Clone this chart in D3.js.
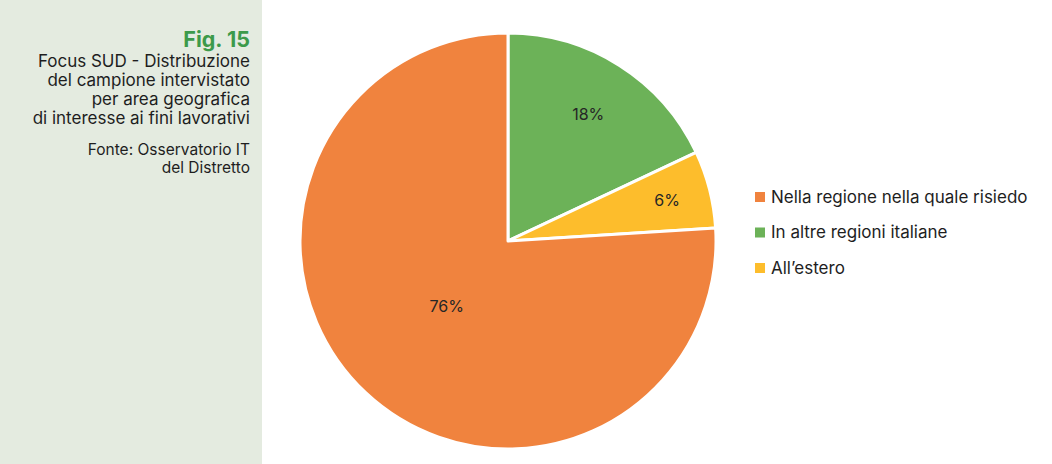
<!DOCTYPE html>
<html>
<head>
<meta charset="utf-8">
<script src="https://cdn.jsdelivr.net/npm/d3@7"></script>
<style>
  body { margin: 0; background: #fff; }
  svg { display: block; font-family: Inter, "Open Sans", sans-serif; }
</style>
</head>
<body>
<svg id="chart" width="1052" height="464"></svg>
<script>
const categories = ['In altre regioni italiane', 'All\u2019estero', 'Nella regione nella quale risiedo'];
const values = [18, 6, 76];
const legendOrder = ['Nella regione nella quale risiedo', 'In altre regioni italiane', 'All\u2019estero'];
const titleLines = ['Focus SUD - Distribuzione', 'del campione intervistato', 'per area geografica', 'di interesse ai fini lavorativi'];
const sourceLines = ['Fonte: Osservatorio IT', 'del Distretto'];

const colors = {
  'Nella regione nella quale risiedo': '#f0833e',
  'In altre regioni italiane': '#6cb258',
  'All\u2019estero': '#fdbd2c'
};
// label distance from centre, as a fraction of the radius
const labelPos = {
  'Nella regione nella quale risiedo': 0.43,
  'In altre regioni italiane': 0.72,
  'All\u2019estero': 0.79
};

const svg = d3.select('#chart');
const width = 1052, height = 464;

// left side panel
svg.append('rect')
  .attr('width', 262)
  .attr('height', height)
  .attr('fill', '#e4ebe0');

const side = svg.append('g')
  .attr('class', 'side')
  .attr('text-anchor', 'end');

side.append('text')
  .attr('x', 250)
  .attr('y', 47)
  .attr('fill', '#3c9a4a')
  .attr('font-size', 21.5)
  .attr('font-weight', 700)
  .text('Fig. 15');

side.selectAll('.titleLine')
  .data(titleLines)
  .join('text')
  .attr('class', 'titleLine')
  .attr('x', 250)
  .attr('y', (d, i) => 67 + i * 19)
  .attr('fill', '#1e1e1e')
  .attr('font-size', 17)
  .text(d => d);

side.selectAll('.sourceLine')
  .data(sourceLines)
  .join('text')
  .attr('class', 'sourceLine')
  .attr('x', 250)
  .attr('y', (d, i) => 155 + i * 18)
  .attr('fill', '#1e1e1e')
  .attr('font-size', 15.5)
  .text(d => d);

// pie
const cx = 508, cy = 241, radius = 208;
const data = categories.map((c, i) => ({ category: c, value: values[i] }));

const pie = d3.pie()
  .sort(null)
  .value(d => d.value);

const arc = d3.arc()
  .innerRadius(0)
  .outerRadius(radius);

const main = svg.append('g')
  .attr('class', 'main')
  .attr('transform', `translate(${cx},${cy})`);

const arcs = pie(data);

main.selectAll('path')
  .data(arcs)
  .join('path')
  .attr('d', arc)
  .attr('fill', d => colors[d.data.category])
  .attr('stroke', '#fff')
  .attr('stroke-width', 3)
  .attr('stroke-linejoin', 'round');

main.selectAll('.sliceLabel')
  .data(arcs)
  .join('text')
  .attr('class', 'sliceLabel')
  .attr('transform', d => {
    const r = radius * labelPos[d.data.category];
    const c = d3.arc().innerRadius(r).outerRadius(r).centroid(d);
    return `translate(${c[0]},${c[1]})`;
  })
  .attr('text-anchor', 'middle')
  .attr('dy', '0.35em')
  .attr('font-size', 16)
  .attr('fill', '#262626')
  .text(d => `${d.data.value}%`);

// legend
const legend = svg.append('g')
  .attr('class', 'legend')
  .attr('transform', 'translate(755,197)');

const item = legend.selectAll('.item')
  .data(legendOrder)
  .join('g')
  .attr('class', 'item')
  .attr('transform', (d, i) => `translate(0,${i * 35.5})`);

item.append('rect')
  .attr('x', 0)
  .attr('y', -5)
  .attr('width', 10)
  .attr('height', 10)
  .attr('fill', d => colors[d]);

item.append('text')
  .attr('x', 16)
  .attr('dy', '0.35em')
  .attr('font-size', 17)
  .attr('fill', '#1e1e1e')
  .text(d => d);
</script>
</body>
</html>
